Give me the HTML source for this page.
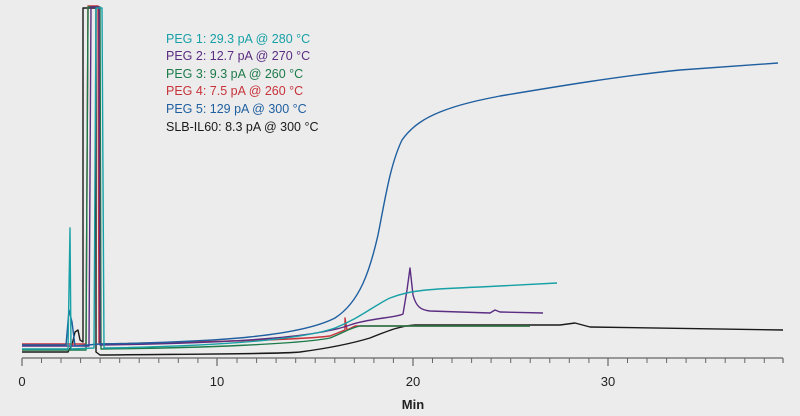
<!DOCTYPE html><html><head><style>body{margin:0;background:#ececec}svg{display:block}text{font-family:"Liberation Sans",sans-serif}</style></head><body>
<svg width="800" height="416" viewBox="0 0 800 416">
<rect width="800" height="416" fill="#ececec"/>
<g fill="none" stroke-width="1.4" stroke-linejoin="round">
<path stroke="#1a1a1a" d="M22,352 L68,352 L72,345 L75,332 L78,330 L80,340 L83,342 L83,8 L96,8 L96,352 L100,355 C200,354 280,354 300,352 C330,348 350,344 370,338 C390,330 400,326 415,325 L560,325 L575,323 L590,327 L783,330"/>
<path stroke="#c8333a" d="M22,344 L86,344 L88,6 L98,6 L99,344 C200,342 300,340 330,336 L345,330 L345,318 L347,330 L355,326 L530,326"/>
<path stroke="#1d7a4a" d="M22,350 L86,350 L88,7 L100,7 L101,349 C200,348 300,344 330,338 C345,332 350,328 360,326 L530,326"/>
<path stroke="#5b2d82" d="M22,346 L89,346 L91,7 L99,7 L100,345 C250,343 320,336 350,325 C370,318 395,318 403,314 L407,290 L410,268 L413,295 C416,306 420,310 430,311 L490,313 L495,310 L500,312 L543,313"/>
<path stroke="#1f5fa0" d="M22,345 L66,345 L69,310 L72,322 L75,346 L100,344 C220,342 300,336 335,318 C360,302 370,270 378,235 C385,200 390,165 402,140 C412,126 425,118 440,112 C460,104 480,100 500,96 C560,86 620,76 680,70 C720,67 750,65 778,63"/>
<path stroke="#17a0a6" d="M22,349 L68,349 L70,228 L71,349 L94,348 L96,8 L102,8 L104,348 C220,346 300,340 335,328 C360,318 375,305 390,298 C410,290 430,289 480,287 L557,283"/>
</g>
<g stroke="#666" stroke-width="1.2">
<line x1="22" y1="358" x2="783" y2="358"/>
<path d="M22,358v8M217,358v8M413,358v8M608,358v8M783,358v5"/>
</g>
<g stroke="#666" stroke-width="1">
<path d="M41.5,358v5M61,358v5M80.6,358v5M100.1,358v5M119.7,358v5M139.2,358v5M158.8,358v5M178.3,358v5M197.9,358v5M237,358v5M256.6,358v5M276.1,358v5M295.7,358v5M315.2,358v5M334.8,358v5M354.3,358v5M373.9,358v5M393.4,358v5M432.5,358v5M452,358v5M471.6,358v5M491.1,358v5M510.7,358v5M530.2,358v5M549.8,358v5M569.3,358v5M588.9,358v5M627.5,358v5M647,358v5M666.6,358v5M686.1,358v5M705.7,358v5M725.2,358v5M744.8,358v5M764.3,358v5"/>
</g>
<g font-size="13" fill="#222" text-anchor="middle">
<text x="22" y="386">0</text><text x="217" y="386">10</text><text x="413" y="386">20</text><text x="608" y="386">30</text>
<text x="413" y="409" font-weight="bold">Min</text>
</g>
<g font-size="12.5">
<text x="166" y="43" fill="#17a0a6">PEG 1: 29.3 pA @ 280 °C</text>
<text x="166" y="60" fill="#5b2d82">PEG 2: 12.7 pA @ 270 °C</text>
<text x="166" y="78" fill="#1d7a4a">PEG 3: 9.3 pA @ 260 °C</text>
<text x="166" y="95" fill="#c8333a">PEG 4: 7.5 pA @ 260 °C</text>
<text x="166" y="113" fill="#1f5fa0">PEG 5: 129 pA @ 300 °C</text>
<text x="166" y="131" fill="#1a1a1a">SLB-IL60: 8.3 pA @ 300 °C</text>
</g>
</svg></body></html>
